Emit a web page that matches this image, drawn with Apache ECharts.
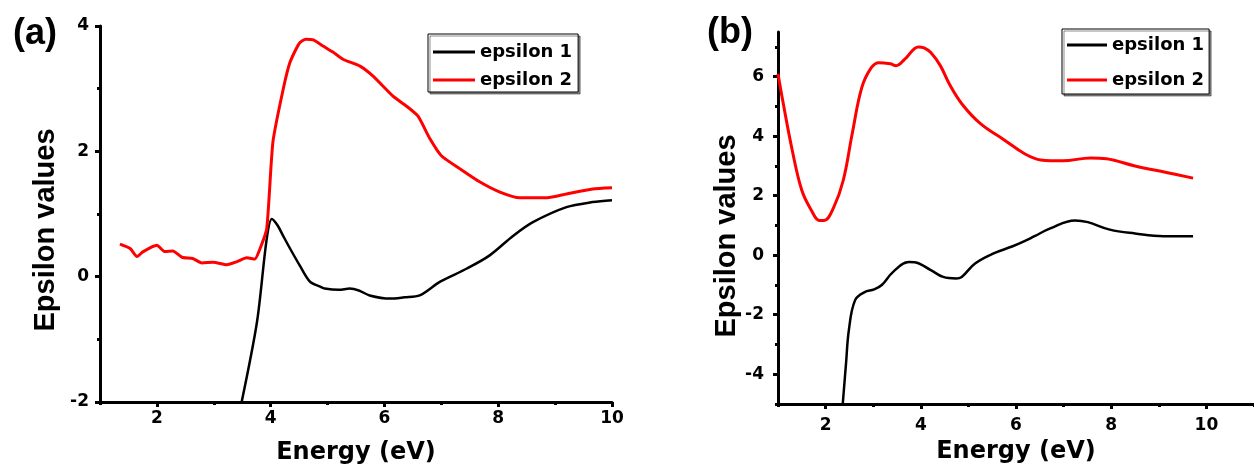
<!DOCTYPE html>
<html>
<head>
<meta charset="utf-8">
<script src="https://cdn.jsdelivr.net/npm/echarts@6/dist/echarts.min.js"></script>
<style>
html,body{margin:0;padding:0;background:#fff;}
#chart{width:1254px;height:470px;}
</style>
</head>
<body>
<div id="chart"></div>
<script>
// ---- Panel (a) data ----
var aEps1Energy = [3.49,3.76,3.93,4.02,4.12,4.22,4.34,4.51,4.69,4.87,4.95,5.2,5.39,5.55,5.74,6.1,6.35,6.62,6.98,7.45,7.85,8.26,8.61,9.2,9.66,10.0];
var aEps1Values = [-2.0,-0.72,0.6,0.92,0.82,0.65,0.45,0.18,-0.08,-0.16,-0.19,-0.21,-0.19,-0.22,-0.3,-0.35,-0.33,-0.3,-0.08,0.13,0.34,0.65,0.87,1.11,1.19,1.22];
var aEps2Energy = [1.35,1.53,1.65,1.76,2.0,2.14,2.28,2.44,2.63,2.79,2.99,3.23,3.41,3.58,3.72,3.81,3.93,4.04,4.22,4.34,4.5,4.62,4.75,4.92,5.1,5.27,5.57,5.8,6.15,6.39,6.59,6.8,7.0,7.33,7.68,8.03,8.38,8.86,9.2,9.66,10.0];
var aEps2Values = [0.52,0.45,0.32,0.40,0.50,0.40,0.41,0.31,0.29,0.22,0.23,0.19,0.24,0.30,0.28,0.44,0.76,2.15,2.99,3.42,3.72,3.79,3.78,3.68,3.58,3.47,3.36,3.2,2.88,2.72,2.56,2.2,1.93,1.72,1.51,1.35,1.26,1.26,1.32,1.40,1.42];
// ---- Panel (b) data ----
var bEps1Energy = [2.36,2.43,2.49,2.62,2.82,3.02,3.18,3.42,3.75,3.87,4.21,4.47,4.74,4.86,5.14,5.53,5.93,6.19,6.39,6.72,7.24,7.51,7.97,8.5,9.1,9.72];
var bEps1Values = [-5.0,-3.62,-2.5,-1.51,-1.24,-1.15,-1.0,-0.56,-0.23,-0.24,-0.5,-0.73,-0.78,-0.73,-0.28,0.06,0.3,0.48,0.64,0.9,1.17,1.11,0.86,0.73,0.64,0.64];
var bEps2Energy = [1.0,1.1,1.3,1.5,1.7,1.87,1.97,2.17,2.37,2.56,2.76,2.96,3.12,3.36,3.48,3.67,3.95,4.07,4.21,4.41,4.6,4.86,5.26,5.73,6.19,6.52,6.98,7.57,7.9,8.5,9.16,9.72];
var bEps2Values = [6.1,5.19,3.52,2.18,1.51,1.17,1.17,1.61,2.51,4.09,5.63,6.3,6.47,6.43,6.37,6.6,7.0,6.97,6.81,6.37,5.75,5.09,4.41,3.9,3.4,3.2,3.17,3.27,3.24,3.0,2.78,2.59];
// ---- tick labels ----
var aXTicks = [2,4,6,8,10];
var aXMinor = [1,3,5,7,9];
var aYTicks = [-2,0,2,4];
var aYMinor = [-1,1,3];
var bXTicks = [2,4,6,8,10];
var bXMinor = [1,3,5,7,9,11];
var bYTicks = [-4,-2,0,2,4,6];
var bYMinor = [-5,-3,-1,1,3,5,7];
var seriesNames = ['epsilon 1','epsilon 2'];
var panelLabels = ['(a)','(b)'];

function pairs(xs, ys){ return xs.map(function(x,i){ return [x, ys[i]]; }); }

var tickFont = {fontFamily:'DejaVu Sans', fontWeight:'bold', fontSize:17, color:'#000'};
function majorAxis(grid, min, max, ticks, isX, labelMargin, name, nameGap, namePad){
  var ax = {
    type:'value', gridIndex:grid, min:min, max:max,
    position: isX ? 'bottom' : 'left',
    axisLine:{show:true, onZero:false, lineStyle:{color:'#000', width:3}},
    axisTick:{show:true, customValues:ticks, length:5, lineStyle:{color:'#000', width:3}},
    axisLabel:Object.assign({show:true, customValues:ticks, margin:labelMargin}, tickFont),
    splitLine:{show:false},
    name:name, nameLocation:'middle', nameGap:nameGap
  };
  if (isX) {
    ax.nameTextStyle = {fontFamily:'DejaVu Sans', fontWeight:'bold', fontSize:24, color:'#000'};
  } else {
    ax.nameTextStyle = {fontFamily:'Liberation Sans', fontWeight:'bold', fontSize:29, color:'#000', padding:[0, namePad, 0, 0]};
  }
  return ax;
}
function minorAxis(grid, min, max, ticks, isX){
  return {
    type:'value', gridIndex:grid, min:min, max:max,
    position: isX ? 'bottom' : 'left',
    axisLine:{show:false, onZero:false},
    axisTick:{show:true, customValues:ticks, length:3, lineStyle:{color:'#000', width:3}},
    axisLabel:{show:false},
    splitLine:{show:false}
  };
}

var chart = echarts.init(document.getElementById('chart'), null, {renderer:'canvas'});
var option = {
  backgroundColor:'#fff',
  animation:false,
  grid:[
    {left:100, top:26, width:512, height:377},
    {left:778, top:32, width:505, height:372}
  ],
  xAxis:[
    majorAxis(0, 1, 10, aXTicks, true, 8, 'Energy (eV)', 39),
    minorAxis(0, 1, 10, aXMinor, true),
    majorAxis(1, 1, 11, bXTicks, true, 13, 'Energy (eV)', 36),
    minorAxis(1, 1, 11, bXMinor, true)
  ],
  yAxis:[
    majorAxis(0, -2, 4, aYTicks, false, 11, 'Epsilon values', 40, 32),
    minorAxis(0, -2, 4, aYMinor, false),
    majorAxis(1, -5, 7.5, bYTicks, false, 14, 'Epsilon values', 20, 36),
    minorAxis(1, -5, 7.5, bYMinor, false)
  ],
  legend:[
    {
      data:seriesNames, orient:'vertical', left:428, top:34,
      icon:'rect', itemWidth:42, itemHeight:3, itemGap:10,
      padding:[9,6,3,5],
      backgroundColor:'#fff', borderColor:'#000', borderWidth:1,
      shadowColor:'rgba(0,0,0,0.45)', shadowOffsetX:2, shadowOffsetY:2, shadowBlur:0,
      textStyle:{fontFamily:'DejaVu Sans', fontWeight:'bold', fontSize:18, color:'#000'}
    },
    {
      data:seriesNames, orient:'vertical', left:1062, top:29,
      icon:'rect', itemWidth:40, itemHeight:3, itemGap:17,
      padding:[7,5,5,5],
      backgroundColor:'#fff', borderColor:'#000', borderWidth:1,
      shadowColor:'rgba(0,0,0,0.45)', shadowOffsetX:2, shadowOffsetY:2, shadowBlur:0,
      textStyle:{fontFamily:'DejaVu Sans', fontWeight:'bold', fontSize:18, color:'#000'}
    }
  ],
  graphic:[
    {type:'text', left:13, top:16, style:{text:panelLabels[0], font:'bold 36px "Liberation Sans"', fill:'#000'}},
    {type:'text', left:707, top:15, style:{text:panelLabels[1], font:'bold 36px "Liberation Sans"', fill:'#000'}}
  ],
  series:[
    {name:seriesNames[0], type:'line', xAxisIndex:0, yAxisIndex:0, data:pairs(aEps1Energy,aEps1Values),
     symbol:'none', smooth:0.3, clip:true, color:'#000', lineStyle:{color:'#000', width:2.5}},
    {name:seriesNames[1], type:'line', xAxisIndex:0, yAxisIndex:0, data:pairs(aEps2Energy,aEps2Values),
     symbol:'none', smooth:0.2, clip:true, color:'#ff0000', lineStyle:{color:'#ff0000', width:3}},
    {name:seriesNames[0], type:'line', xAxisIndex:2, yAxisIndex:2, data:pairs(bEps1Energy,bEps1Values),
     symbol:'none', smooth:0.4, clip:true, color:'#000', lineStyle:{color:'#000', width:2.5}},
    {name:seriesNames[1], type:'line', xAxisIndex:2, yAxisIndex:2, data:pairs(bEps2Energy,bEps2Values),
     symbol:'none', smooth:0.4, clip:true, color:'#ff0000', lineStyle:{color:'#ff0000', width:3}}
  ]
};
chart.setOption(option);
</script>
</body>
</html>
